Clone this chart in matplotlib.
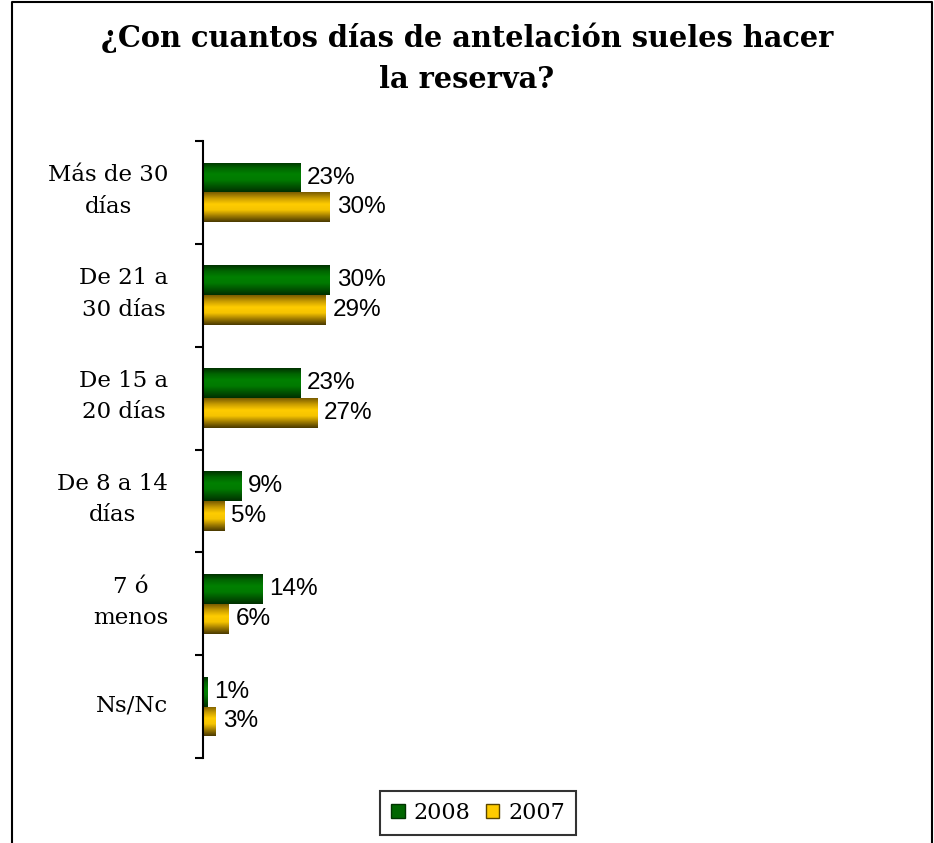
import matplotlib
matplotlib.use("Agg")
import matplotlib.pyplot as plt
import numpy as np
from matplotlib.colors import LinearSegmentedColormap
from matplotlib.lines import Line2D
from matplotlib.patches import Patch

categories = ["Más de 30\ndías", "De 21 a\n30 días", "De 15 a\n20 días",
              "De 8 a 14\ndías", "7 ó\nmenos", "Ns/Nc"]
values_2008 = [23, 30, 23, 9, 14, 1]
values_2007 = [30, 29, 27, 5, 6, 3]
series_names = ["2008", "2007"]
title = "¿Con cuantos días de antelación sueles hacer\nla reserva?"

W, H = 934, 843
fig = plt.figure(figsize=(W / 100, H / 100), dpi=100)

# outer frame (left, top, right)
fx0, fx1, fy1 = 12 / W, 932 / W, 1 - 2 / H
fig.add_artist(Line2D([fx0, fx0, fx1, fx1], [-0.01, fy1, fy1, -0.01],
                      transform=fig.transFigure, color="black", lw=1.5))

ax = fig.add_axes([203 / W, 1 - 758 / H, 423 / W, (758 - 141) / H])
ax.set_xlim(0, 100)
ax.set_ylim(len(categories) - 0.5, -0.5)

green_cmap = LinearSegmentedColormap.from_list(
    "g", ["#003300", "#006600", "#008000", "#007a00", "#005500", "#003000"])
gold_cmap = LinearSegmentedColormap.from_list(
    "y", ["#7a5c00", "#c89c00", "#ffcc00", "#f5c400", "#a07c00", "#4a3a00"])

y = np.arange(len(categories))
bh = 0.29
bars08 = ax.barh(y - bh / 2, values_2008, height=bh, color="#007000", lw=0)
bars07 = ax.barh(y + bh / 2, values_2007, height=bh, color="#ffcc00", lw=0)

grad = np.linspace(0, 1, 64).reshape(-1, 1)
for bars, cmap in ((bars08, green_cmap), (bars07, gold_cmap)):
    for p in bars:
        x0, y0 = p.get_x(), p.get_y()
        w, h = p.get_width(), p.get_height()
        im = ax.imshow(grad, cmap=cmap, aspect="auto",
                       extent=(x0, x0 + w, y0 + h, y0), origin="upper",
                       interpolation="bilinear", zorder=2)
        im.set_clip_path(p)

for bars, vals in ((bars08, values_2008), (bars07, values_2007)):
    for p, v in zip(bars, vals):
        ax.annotate(f"{v}%", (p.get_x() + p.get_width(), p.get_y() + p.get_height() / 2),
                    xytext=(5, 0), textcoords="offset points", va="center", ha="left",
                    fontsize=17.5, family="Liberation Sans", color="black")

for s in ("top", "right", "bottom"):
    ax.spines[s].set_visible(False)
ax.spines["left"].set_linewidth(1.5)
ax.set_xticks([])
ax.set_yticks(y)
ax.set_yticklabels([])
ax.tick_params(axis="y", which="major", length=0)
ax.set_yticks(np.arange(-0.5, len(categories)), minor=True)
ax.tick_params(axis="y", which="minor", length=6, width=1.5, direction="out")

# category labels: block right-aligned, lines centred
for yi, cat in zip(y, categories):
    ax.annotate(cat, (0, yi), xycoords=("axes fraction", "data"),
                xytext=(-25, 1), textcoords="offset points",
                ha="right", va="center", multialignment="center",
                family="DejaVu Serif", fontsize=16.5, linespacing=1.55)

fig.text(467 / W, 1 - 58 / H, title, ha="center", va="center",
         family="DejaVu Serif", fontweight="bold", fontsize=20.8, linespacing=1.5)

# legend
handles = [Patch(facecolor="#006600", edgecolor="#003300"),
           Patch(facecolor="#ffcc00", edgecolor="#5a4600")]
leg = fig.legend(handles, series_names, loc="center", bbox_to_anchor=(478 / W, 1 - 813 / H),
                 ncol=2, frameon=True, fancybox=False, edgecolor="black",
                 prop={"family": "DejaVu Serif", "size": 16},
                 handlelength=0.6, handleheight=0.6, handletextpad=0.4,
                 columnspacing=0.7, borderpad=0.5)
leg.get_frame().set_linewidth(1.5)

fig.savefig("out.png", dpi=100)
